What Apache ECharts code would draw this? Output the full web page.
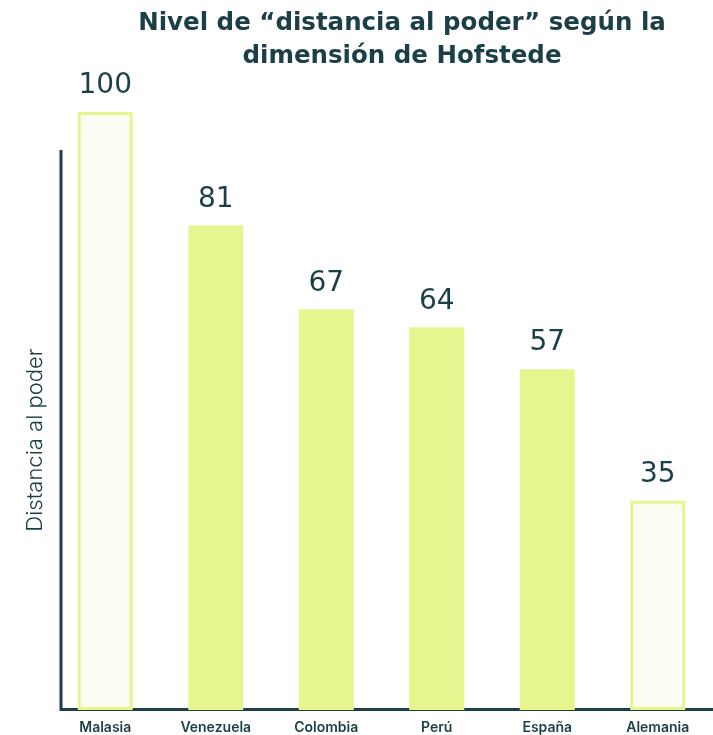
<!DOCTYPE html>
<html>
<head>
<meta charset="utf-8">
<script src="https://cdn.jsdelivr.net/npm/echarts@6/dist/echarts.min.js"></script>
<style>
  html, body { margin: 0; padding: 0; background: #fff; }
  #chart { width: 713px; height: 735px; }
</style>
</head>
<body>
<div id="chart"></div>
<script>
  var paises = ['Malasia', 'Venezuela', 'Colombia', 'Perú', 'España', 'Alemania'];
  var valores = [100, 81, 67, 64, 57, 35];
  var destacados = ['Malasia', 'Alemania'];

  var oscuro = '#1b3f47';
  var verde = '#e6f68e';

  var chart = echarts.init(document.getElementById('chart'));

  var datos = valores.map(function (v, i) {
    var hueco = destacados.indexOf(paises[i]) >= 0;
    return {
      value: v,
      itemStyle: hueco
        ? { color: '#fcfdf2', borderColor: verde, borderWidth: 3 }
        : { color: verde }
    };
  });

  var option = {
    animation: false,
    title: {
      text: 'Nivel de “distancia al poder” según la\ndimensión de Hofstede',
      left: 397,
      textAlign: 'center',
      top: 2,
      textStyle: {
        fontFamily: 'DejaVu Sans',
        fontSize: 24.5,
        fontWeight: 'bold',
        color: oscuro,
        lineHeight: 33
      }
    },
    grid: { left: 50, width: 672, top: 112, bottom: 25, containLabel: false },
    xAxis: {
      type: 'category',
      data: paises,
      axisLine: { show: false },
      axisTick: { show: false },
      axisLabel: {
        margin: 11,
        fontFamily: 'Inter',
        fontSize: 14,
        fontWeight: 600,
        color: oscuro
      }
    },
    yAxis: {
      type: 'value',
      min: 0,
      max: 100,
      axisLine: { show: false },
      axisTick: { show: false },
      axisLabel: { show: false },
      splitLine: { show: false }
    },
    graphic: [
      {
        type: 'line',
        shape: { x1: 61, y1: 150, x2: 61, y2: 711 },
        style: { stroke: oscuro, lineWidth: 3 }
      },
      {
        type: 'line',
        shape: { x1: 60, y1: 709.5, x2: 713, y2: 709.5 },
        style: { stroke: oscuro, lineWidth: 3 }
      },
      {
        type: 'text',
        x: 35,
        y: 440,
        rotation: Math.PI / 2,
        style: {
          text: 'Distancia al poder',
          fontFamily: 'Inter',
          fontSize: 22,
          fontWeight: 300,
          fill: oscuro,
          textAlign: 'center',
          textVerticalAlign: 'middle'
        }
      }
    ],
    series: [{
      type: 'bar',
      data: datos,
      barWidth: 55,
      label: {
        show: true,
        position: 'top',
        distance: 12,
        fontFamily: 'DejaVu Sans',
        fontSize: 28,
        color: oscuro
      }
    }]
  };

  chart.setOption(option);
</script>
</body>
</html>
